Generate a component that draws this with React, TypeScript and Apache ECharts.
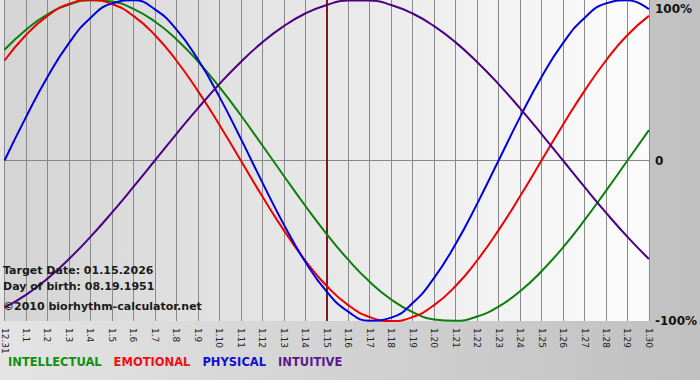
import React, { useEffect, useRef } from "react";
import * as echarts from "echarts";

const days = ["12.31","1.1","1.2","1.3","1.4","1.5","1.6","1.7","1.8","1.9","1.10","1.11","1.12","1.13","1.14","1.15","1.16","1.17","1.18","1.19","1.20","1.21","1.22","1.23","1.24","1.25","1.26","1.27","1.28","1.29","1.30"];

const intellectual = [69.0,81.5,91.0,97.2,99.9,99.0,94.5,86.6,75.6,61.8,45.8,28.2,9.5,-9.5,-28.2,-45.8,-61.8,-75.6,-86.6,-94.5,-99.0,-99.9,-97.2,-91.0,-81.5,-69.0,-54.1,-37.2,-18.9,0,18.9];
const emotional = [62.3,78.2,90.1,97.5,100,97.5,90.1,78.2,62.3,43.4,22.3,0,-22.3,-43.4,-62.3,-78.2,-90.1,-97.5,-100,-97.5,-90.1,-78.2,-62.3,-43.4,-22.3,0,22.3,43.4,62.3,78.2,90.1];
const physical = [0,27.0,52.0,73.1,88.8,97.9,99.8,94.2,81.7,63.1,39.8,13.6,-13.6,-39.8,-63.1,-81.7,-94.2,-99.8,-97.9,-88.8,-73.1,-52.0,-27.0,0,27.0,52.0,73.1,88.8,97.9,99.8,94.2];
const intuitive = [-91.6,-83.7,-73.6,-61.4,-47.6,-32.5,-16.5,0,16.5,32.5,47.6,61.4,73.6,83.7,91.6,96.9,99.7,99.7,96.9,91.6,83.7,73.6,61.4,47.6,32.5,16.5,0,-16.5,-32.5,-47.6,-61.4];

const yTicks = [-100, 0, 100];
const targetDay = "1.15";
const infoLines = ["Target Date: 01.15.2026", "Day of birth: 08.19.1951", "\u00A92010 biorhythm-calculator.net"];

const seriesDefs = [
  { name: "INTELLECTUAL", data: intellectual, color: "#0a800a", legend: "#109010" },
  { name: "EMOTIONAL", data: emotional, color: "#ee0000", legend: "#ee1010" },
  { name: "PHYSICAL", data: physical, color: "#0000dd", legend: "#1010cc" },
  { name: "INTUITIVE", data: intuitive, color: "#4b0082", legend: "#5a1a8a" },
];

export default function App() {
  const ref = useRef<HTMLDivElement>(null);
  useEffect(() => {
    if (!ref.current) return;
    const chart = echarts.init(ref.current, undefined, { renderer: "svg" });
    const font = "DejaVu Sans, Verdana, sans-serif";
    chart.setOption({
      animation: false,
      backgroundColor: new echarts.graphic.LinearGradient(0, 0, 1, 0, [
        { offset: 0, color: "#e4e4e4" },
        { offset: 1, color: "#c0c0c0" },
      ]),
      grid: {
        left: 0,
        top: 0,
        width: 651,
        height: 321,
        show: true,
        borderWidth: 0,
        backgroundColor: new echarts.graphic.LinearGradient(0, 0, 1, 0, [
          { offset: 0, color: "#d4d4d4" },
          { offset: 1, color: "#fcfcfc" },
        ]),
      },
      legend: {
        left: 3,
        top: 355,
        icon: "none",
        itemWidth: 0,
        itemGap: 7,
        padding: 0,
        textStyle: { fontFamily: font, fontWeight: "bold", fontSize: 11.5 },
        data: seriesDefs.map((s) => ({ name: s.name, textStyle: { color: s.legend } })),
      },
      xAxis: {
        type: "category",
        data: days,
        boundaryGap: false,
        axisLine: { show: true, lineStyle: { color: "#888888", width: 1 } },
        axisTick: { show: true, length: 5, lineStyle: { color: "#888888" } },
        splitLine: { show: true, lineStyle: { color: "#8a8a8a", width: 1 } },
        axisLabel: {
          interval: 0,
          rotate: -90,
          fontSize: 9,
          fontFamily: font,
          color: "#222",
          margin: 7,
        },
      },
      yAxis: {
        type: "value",
        position: "right",
        min: -100,
        max: 100,
        interval: 100,
        axisLine: { show: false },
        axisTick: { show: false },
        splitLine: { show: true, lineStyle: { color: ["transparent", "#8a8a8a", "transparent"], width: 1 } },
        axisLabel: {
          margin: 6,
          fontFamily: font,
          fontWeight: "bold",
          fontSize: 12,
          color: "#111",
          customValues: yTicks,
          formatter: (v: number) => (v === 100 ? "{t|100%}" : v === 0 ? "0" : v + "%"),
          rich: {
            t: { padding: [18, 0, 0, 0], fontFamily: font, fontWeight: "bold", fontSize: 12, color: "#111" },
          },
        },
      },
      graphic: infoLines.map((t, i) => ({
        type: "text",
        left: 3,
        top: [265, 281, 301][i],
        style: { text: t, fontFamily: font, fontWeight: "bold", fontSize: 11, fill: "#1a1a1a" },
        z: 100,
      })),
      series: seriesDefs.map((s, i) => ({
        name: s.name,
        type: "line",
        data: s.data,
        smooth: true,
        showSymbol: false,
        symbol: "none",
        clip: false,
        lineStyle: { color: s.color, width: 2 },
        itemStyle: { color: s.legend },
        z: 3,
        markLine:
          i === 3
            ? {
                silent: true,
                symbol: "none",
                label: { show: false },
                lineStyle: { color: "#7a1c1c", width: 2, type: "solid" },
                data: [{ xAxis: targetDay }],
                z: 2,
              }
            : undefined,
      })),
    });
    return () => chart.dispose();
  }, []);
  return <div ref={ref} style={{ position: "fixed", left: 0, top: 0, width: 700, height: 380 }} />;
}
